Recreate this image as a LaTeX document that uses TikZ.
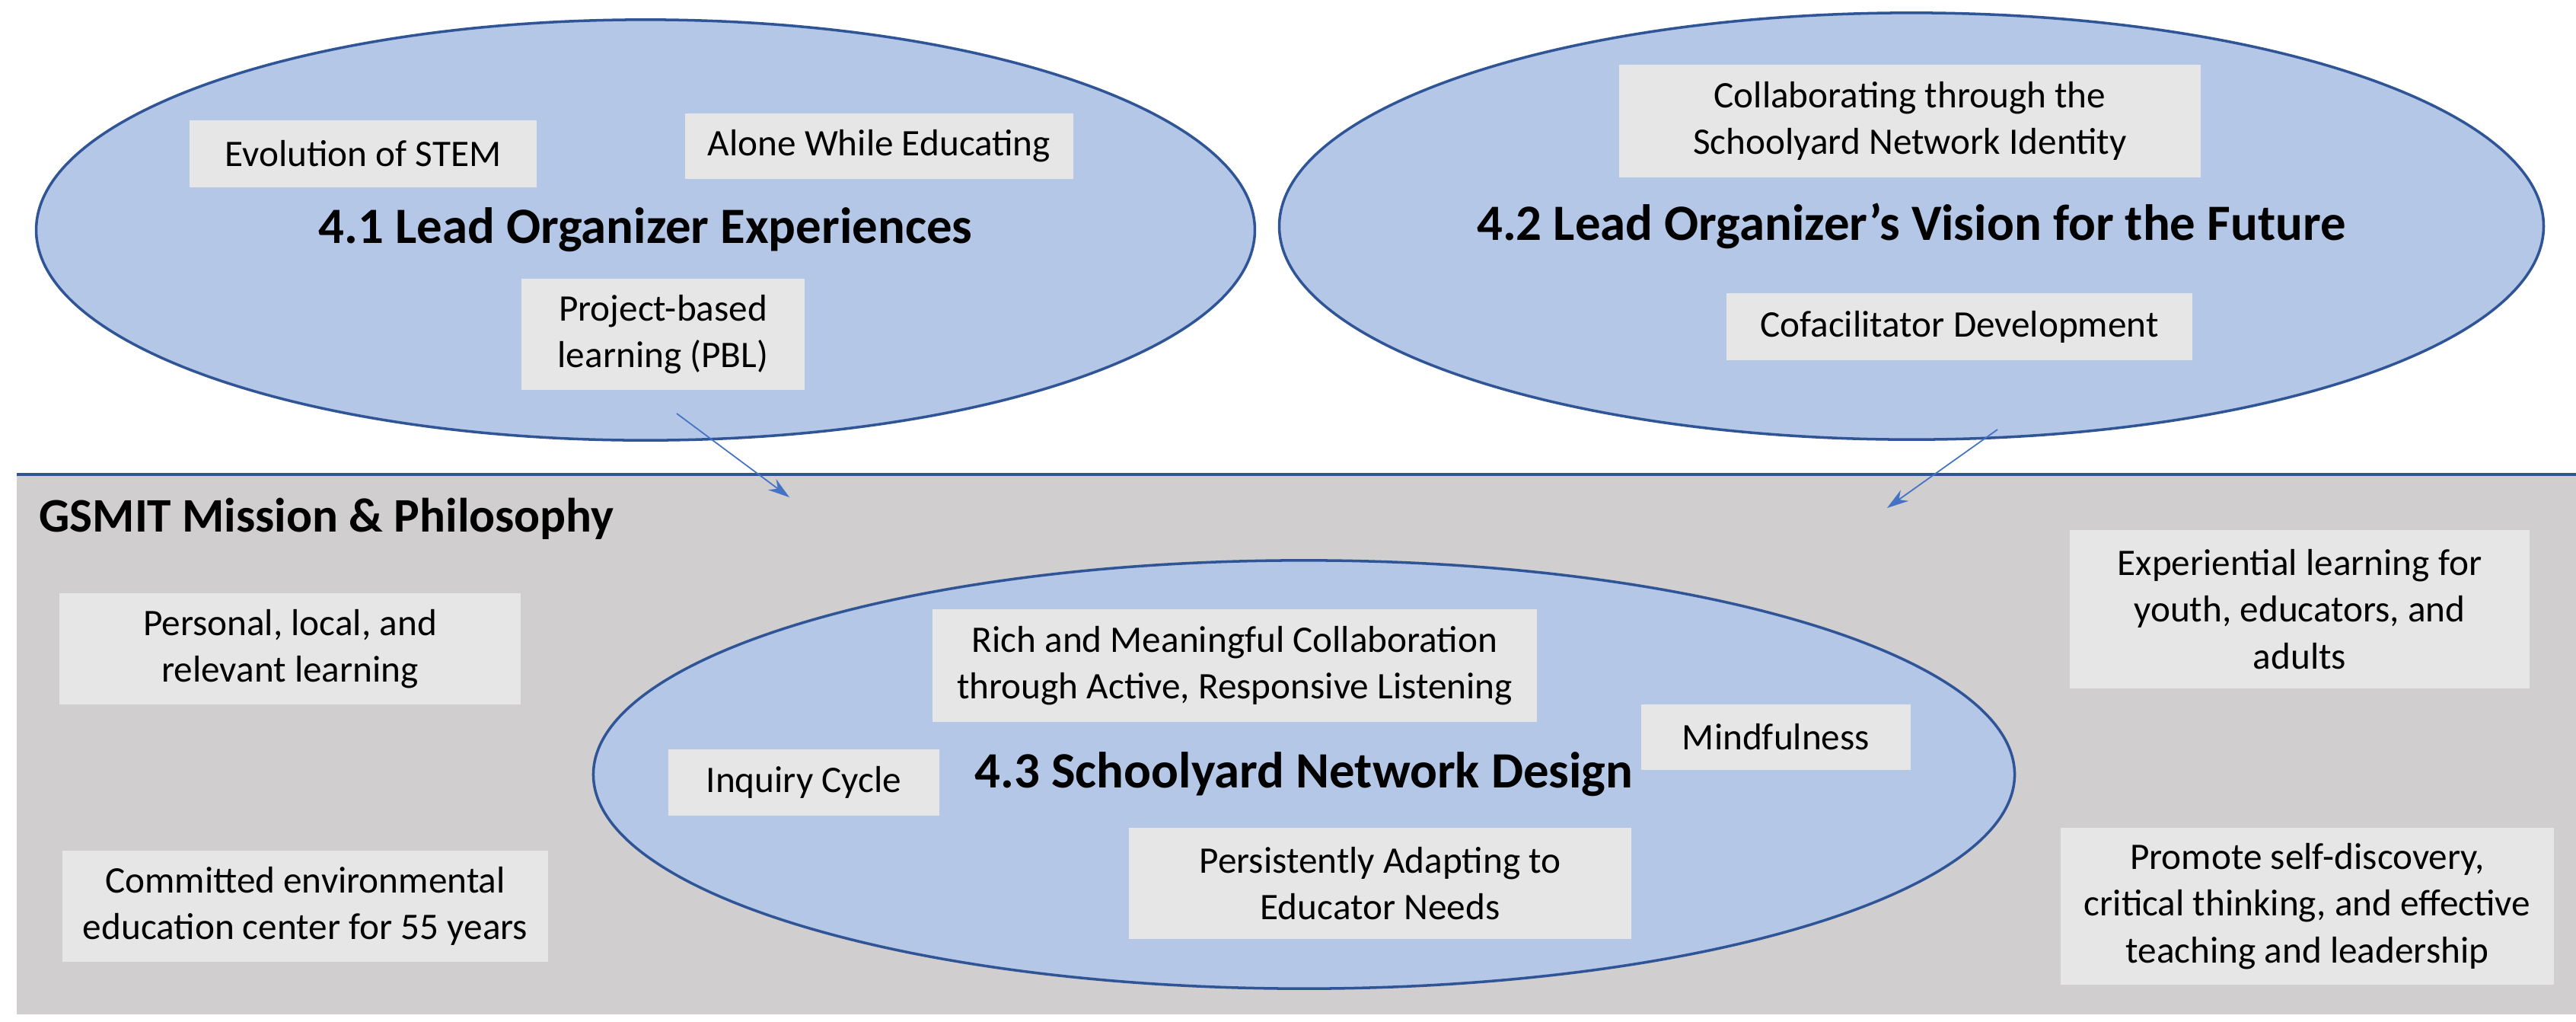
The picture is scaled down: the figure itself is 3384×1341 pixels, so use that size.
\documentclass[tikz,border=0pt]{standalone}
\usepackage{fontspec}
\setmainfont{Carlito}
\usetikzlibrary{shapes.geometric,arrows.meta}
\definecolor{ovalfill}{HTML}{B4C7E7}
\definecolor{ovalline}{HTML}{2F5597}
\definecolor{boxfill}{HTML}{E7E6E6}
\definecolor{bandfill}{HTML}{D0CECE}
\definecolor{arrowblue}{HTML}{4472C4}
\begin{document}
\begin{tikzpicture}[x=0.01cm,y=-0.01cm]
			\tikzstyle{oval} = [draw=ovalline, line width=1pt, fill=ovalfill, ellipse,
				inner sep=0pt, font=\fontsize{19}{22}\selectfont\bfseries]
			\tikzstyle{theme} = [fill=boxfill, inner sep=0pt, align=center,
				font=\fontsize{14}{17.4}\selectfont]
			\tikzstyle{line} = [draw=arrowblue, line width=0.5pt, -{Stealth[length=8pt,width=5pt]}]

			\useasboundingbox (0,0) rectangle (3384,1341);
			% mission band
			\fill[bandfill] (22,623) rectangle (3384,1332);
			\draw[ovalline, line width=1pt] (22,623) -- (3384,623);
			\node(Mission)[anchor=west, font=\fontsize{18}{21}\selectfont\bfseries] at (39,681) {GSMIT Mission \& Philosophy};

			% the three ovals
			\node(Experiences)[oval, minimum width=16cm, minimum height=5.52cm] at (848,302) {4.1 Lead Organizer Experiences};
			\node(Vision)[oval, minimum width=16.6cm, minimum height=5.6cm] at (2511,297) {4.2 Lead Organizer’s Vision for the Future};
			\node(Design)[oval, minimum width=18.66cm, minimum height=5.62cm] at (1713,1017) {4.3 Schoolyard Network Design};

			% themes
			\node(STEM)[theme, minimum width=4.56cm, minimum height=0.87cm] at (477,202) {Evolution of STEM};
			\node(Alone)[theme, minimum width=5.1cm, minimum height=0.85cm] at (1155,192) {Alone While Educating};
			\node(PBL)[theme, minimum width=3.71cm, minimum height=1.46cm] at (871,439) {Project-based\\learning (PBL)};
			\node(Identity)[theme, minimum width=7.63cm, minimum height=1.47cm] at (2509,159) {Collaborating through the\\Schoolyard Network Identity};
			\node(Cofacilitator)[theme, minimum width=6.11cm, minimum height=0.88cm] at (2574,429) {Cofacilitator Development};
			\node(Personal)[theme, minimum width=6.05cm, minimum height=1.45cm] at (381,852) {Personal, local, and\\relevant learning};
			\node(Committed)[theme, minimum width=6.38cm, minimum height=1.46cm] at (401,1190) {Committed environmental\\education center for 55 years};
			\node(Listening)[theme, minimum width=7.94cm, minimum height=1.47cm] at (1622,874) {Rich and Meaningful Collaboration\\through Active, Responsive Listening};
			\node(Mindfulness)[theme, minimum width=3.54cm, minimum height=0.86cm] at (2333,968) {Mindfulness};
			\node(Inquiry)[theme, minimum width=3.56cm, minimum height=0.87cm] at (1056,1027) {Inquiry Cycle};
			\node(Adapting)[theme, minimum width=6.59cm, minimum height=1.46cm] at (1813,1160) {Persistently Adapting to\\Educator Needs};
			\node(Experiential)[theme, minimum width=6.03cm, minimum height=2.07cm] at (3021,800) {Experiential learning for\\youth, educators, and\\adults};
			\node(Promote)[theme, minimum width=6.48cm, minimum height=2.06cm] at (3031,1190) {Promote self-discovery,\\critical thinking, and effective\\teaching and leadership};

			% arrows into the band
			\coordinate(startA) at (889,543);
			\coordinate(tipA) at (1037,653);
			\coordinate(startB) at (2624,564);
			\coordinate(tipB) at (2479,667);
			\draw[line] (startA) -- (tipA);
			\draw[line] (startB) -- (tipB);
\end{tikzpicture}
\end{document}
